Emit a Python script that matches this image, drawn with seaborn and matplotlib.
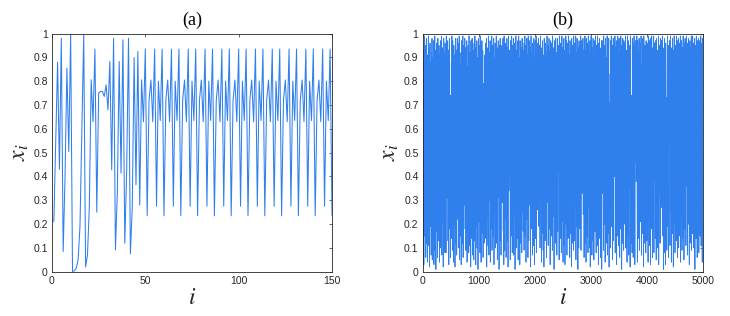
import numpy as np
import matplotlib
matplotlib.use("Agg")
import matplotlib.pyplot as plt
import seaborn as sns

# (a) first 150 iterates: transient, then a period-9 orbit
xa_transient = [
    0.21, 0.55, 0.88, 0.43, 0.98, 0.085, 0.40, 0.855, 0.505, 1.0,
    0.001, 0.004, 0.015, 0.05, 0.19, 0.60, 0.995, 0.02, 0.07, 0.27,
    0.806, 0.63, 0.935, 0.25, 0.75, 0.757, 0.757, 0.736, 0.785, 0.68,
    0.883, 0.428, 0.98, 0.092, 0.33, 0.883, 0.414, 0.974, 0.12, 0.42,
    0.98, 0.075, 0.27, 0.90, 0.365, 0.925, 0.28, 0.806, 0.63,
]
xa_orbit = [
    0.935, 0.235, 0.72, 0.805, 0.63, 0.935, 0.275, 0.80, 0.635,
    0.935, 0.235, 0.72, 0.805, 0.63, 0.935, 0.275, 0.80, 0.635,
    0.935, 0.235, 0.72, 0.805, 0.63, 0.935, 0.275, 0.80, 0.635,
    0.935, 0.235, 0.72, 0.805, 0.63, 0.935, 0.275, 0.80, 0.635,
    0.935, 0.235, 0.72, 0.805, 0.63, 0.935, 0.275, 0.80, 0.635,
    0.935, 0.235, 0.72, 0.805, 0.63, 0.935, 0.275, 0.80, 0.635,
    0.935, 0.235, 0.72, 0.805, 0.63, 0.935, 0.275, 0.80, 0.635,
    0.935, 0.235, 0.72, 0.805, 0.63, 0.935, 0.275, 0.80, 0.635,
    0.935, 0.235, 0.72, 0.805, 0.63, 0.935, 0.275, 0.80, 0.635,
    0.935, 0.235, 0.72, 0.805, 0.63, 0.935, 0.275, 0.80, 0.635,
    0.935, 0.235, 0.72, 0.805, 0.63, 0.935, 0.275, 0.80, 0.635,
    0.935, 0.235,
]

xb_pct = [
    97, 8, 64, 93, 3, 41, 99, 15, 86, 27, 95, 6, 72, 98, 12, 55, 91, 4, 83, 36,
    99, 11, 47, 94, 2, 78, 96, 19, 61, 88, 7, 92, 33, 98, 5, 69, 90, 14, 97, 42,
    3, 85, 58, 99, 9, 26, 93, 1, 74, 96, 17, 50, 89, 6, 98, 38, 81, 13, 95, 67,
    4, 91, 29, 97, 10, 84, 45, 99, 7, 62, 94, 21, 87, 2, 77, 98, 16, 53, 92, 8,
    96, 35, 82, 8, 99, 57, 31, 90, 46, 97, 13, 70, 93, 3, 48, 98, 18, 56, 74, 6,
    66, 39, 88, 14, 99, 66, 9, 97, 30, 80, 4, 95, 52, 20, 91, 2, 73, 98, 12, 44,
    93, 7, 85, 98, 22, 59, 96, 10, 79, 34, 99, 5, 68, 92, 15, 87, 49, 3, 97, 27,
    90, 12, 63, 99, 6, 83, 40, 95, 28, 76, 98, 18, 54, 94, 9, 89, 31, 97, 4, 71,
    86, 17, 95, 43, 8, 99, 28, 75, 11, 92, 60, 2, 97, 36, 84, 14, 98, 51, 7, 93,
    25, 88, 5, 96, 67, 13, 99, 39, 81, 3, 94, 56, 19, 97, 10, 72, 90, 1, 85, 46,
    98, 21, 62, 95, 8, 77, 99, 33, 4, 89, 58, 97, 16, 43, 93, 6, 52, 31, 79, 12,
    91, 52, 84, 38, 96, 14, 69, 98, 2, 57, 94, 23, 87, 11, 99, 45, 7, 92, 64, 30,
    97, 4, 79, 93, 18, 48, 99, 9, 86, 35, 95, 15, 73, 98, 3, 61, 90, 26, 96, 10,
    83, 42, 99, 12, 66, 94, 5, 88, 31, 97, 36, 78, 1, 95, 54, 13, 98, 37, 82, 7,
    92, 58, 95, 29, 87, 46, 98, 17, 74, 3, 99, 40, 9, 91, 63, 22, 96, 6, 85, 49,
    98, 13, 70, 94, 2, 82, 99, 34, 60, 41, 93, 76, 5, 97, 28, 89, 15, 99, 44, 8,
    95, 65, 19, 98, 7, 53, 92, 24, 96, 1, 81, 47, 99, 10, 68, 93, 14, 87, 39, 97,
    5, 74, 99, 20, 90, 56, 3, 97, 32, 85, 12, 94, 61, 8, 98, 25, 79, 96, 17, 50,
    93, 9, 84, 41, 99, 15, 67, 95, 4, 89, 37, 98, 22, 72, 91, 6, 99, 55, 13, 86,
    97, 28, 62, 94, 2, 80, 99, 43, 18, 92, 71, 7, 96, 35, 88, 11, 98, 59, 3, 90,
    46, 97, 14, 83, 99, 8, 66, 93, 26, 78, 96, 29, 57, 98, 19, 86, 40, 95, 10, 73,
    99, 31, 88, 4, 94, 63, 16, 97, 51, 9, 91, 76, 2, 98, 38, 84, 13, 96, 68, 22,
    92, 6, 81, 99, 29, 58, 95, 11, 87, 44, 98, 18, 70, 93, 3, 64, 97, 33, 90, 15,
    96, 49, 9, 99, 23, 85, 60, 94, 1, 77, 97, 36, 89, 12, 98, 54, 27, 92, 7, 83,
    98, 17, 69, 95, 42, 87, 5, 99, 32, 74, 14, 96, 61, 91, 8, 80, 99, 21, 48, 94,
    4, 88, 56, 98, 11, 73, 93, 3, 84, 39, 99, 20, 65, 97, 7, 90, 45, 96, 14, 79,
    99, 26, 62, 91, 6, 97, 50, 16, 94, 82, 2, 98, 35, 86, 12, 95, 71, 9, 99, 41,
    87, 13, 96, 58, 28, 99, 5, 76, 92, 19, 98, 44, 83, 1, 94, 67, 10, 97, 30, 89,
    18, 95, 47, 99, 9, 81, 64, 97, 33, 90, 37, 98, 24, 75, 93, 6, 86, 53, 99, 12,
    93, 70, 4, 98, 34, 88, 15, 96, 59, 8, 99, 27, 82, 92, 10, 66, 97, 2, 79, 43,
    99, 21, 85, 7, 94, 52, 13, 98, 38, 91, 5, 87, 63, 97, 17, 78, 99, 29, 8, 95,
    60, 92, 11, 99, 46, 84, 3, 96, 25, 73, 98, 14, 89, 55, 6, 94, 41, 97, 1, 82,
    97, 33, 68, 93, 9, 99, 57, 20, 95, 80, 4, 98, 43, 90, 12, 86, 65, 99, 7, 50,
    94, 16, 88, 98, 2, 71, 45, 36, 83, 10, 97, 48, 99, 19, 62, 95, 5, 91, 30, 98,
    13, 77, 96, 40, 85, 99, 8, 59, 94, 23, 97, 3, 69, 90, 15, 99, 51, 82, 11, 93,
    98, 45, 6, 92, 74, 18, 99, 33, 87, 1, 95, 61, 12, 98, 27, 84, 9, 97, 56, 88,
    20, 96, 64, 99, 10, 79, 43, 93, 4, 90, 99, 15, 53, 97, 7, 86, 35, 95, 68, 2,
    99, 28, 61, 74, 12, 57, 8, 98, 39, 96, 6, 88, 17, 99, 63, 94, 3, 85, 97, 46,
    89, 38, 62, 99, 34, 4, 97, 76, 14, 92, 50, 98, 9, 82, 44, 96, 21, 70, 99, 13,
    7, 87, 37, 98, 16, 94, 67, 2, 99, 29, 84, 12, 95, 55, 90, 8, 97, 41, 78, 13,
    96, 60, 93, 4, 99, 22, 75, 97, 11, 89, 46, 98, 3, 66, 92, 18, 99, 34, 85, 6,
    94, 52, 17, 99, 8, 80, 96, 38, 91, 14, 97, 62, 5, 98, 27, 73, 93, 10, 88, 45,
    99, 3, 69, 95, 33, 86, 12, 98, 57, 90, 27, 97, 44, 81, 99, 15, 48, 94, 1, 77,
    92, 8, 98, 42, 88, 3, 96, 64, 21, 73, 9, 58, 99, 19, 71, 95, 6, 84, 53, 97,
    97, 11, 56, 99, 25, 83, 4, 94, 68, 16, 98, 40, 87, 2, 93, 61, 99, 20, 76, 8,
    95, 47, 89, 13, 99, 32, 74, 97, 6, 85, 51, 98, 10, 92, 37, 96, 15, 65, 99, 4,
    88, 23, 97, 58, 9, 94, 79, 14, 99, 42, 90, 5, 96, 70, 18, 98, 29, 66, 11, 54,
    99, 36, 63, 96, 7, 87, 45, 98, 20, 91, 3, 78, 97, 12, 55, 94, 26, 99, 9, 82,
    93, 16, 99, 49, 85, 10, 96, 31, 72, 98, 1, 89, 60, 95, 14, 99, 38, 81, 6, 97,
    24, 91, 67, 98, 8, 83, 43, 97, 15, 94, 54, 99, 11, 88, 34, 96, 4, 75, 98, 21,
]

panel_titles = ["(a)", "(b)"]
xticks_a = [0, 50, 100, 150]
xticks_b = [0, 1000, 2000, 3000, 4000, 5000]
yticks = [0, 0.1, 0.2, 0.3, 0.4, 0.5, 0.6, 0.7, 0.8, 0.9, 1]

xa = np.array(xa_transient + xa_orbit)
ia = np.arange(1, len(xa) + 1)
xb = np.array(xb_pct) / 100.0
ib = np.arange(1, 5001, 5)

sns.set_style("white")
plt.rcParams["font.family"] = ["Liberation Sans", "DejaVu Sans"]
plt.rcParams["mathtext.fontset"] = "stix"

line_color = "#2f7fed"
ink = "#262626"

fig = plt.figure(figsize=(7.3, 3.16), dpi=100)
ax_a = fig.add_axes([0.0712, 0.140, 0.3836, 0.7538])
ax_b = fig.add_axes([0.5790, 0.140, 0.3844, 0.7538])

sns.lineplot(x=ia, y=xa, ax=ax_a, color=line_color, linewidth=0.75,
             estimator=None, sort=False)
sns.lineplot(x=ib, y=xb, ax=ax_b, color=line_color, linewidth=0.6,
             estimator=None, sort=False)

for ax, title, xt in zip([ax_a, ax_b], panel_titles, [xticks_a, xticks_b]):
    ax.set_xlim(xt[0], xt[-1])
    ax.set_ylim(0, 1)
    ax.set_xticks(xt)
    ax.set_yticks(yticks)
    ax.set_yticklabels([f"{v:g}" for v in yticks])
    ax.tick_params(direction="in", length=2.5, width=0.5, colors=ink,
                   labelsize=7.5, top=True, right=True, pad=3)
    for sp in ax.spines.values():
        sp.set_visible(True)
        sp.set_color(ink)
        sp.set_linewidth(0.6)
    ax.set_title(title, fontsize=13, family="Liberation Serif", color="black", pad=6)
    ax.set_xlabel(r"$i$", fontsize=17, labelpad=1)
    ax.set_ylabel(r"$x_i$", fontsize=17, labelpad=2)

fig.savefig("out.png", dpi=100)
